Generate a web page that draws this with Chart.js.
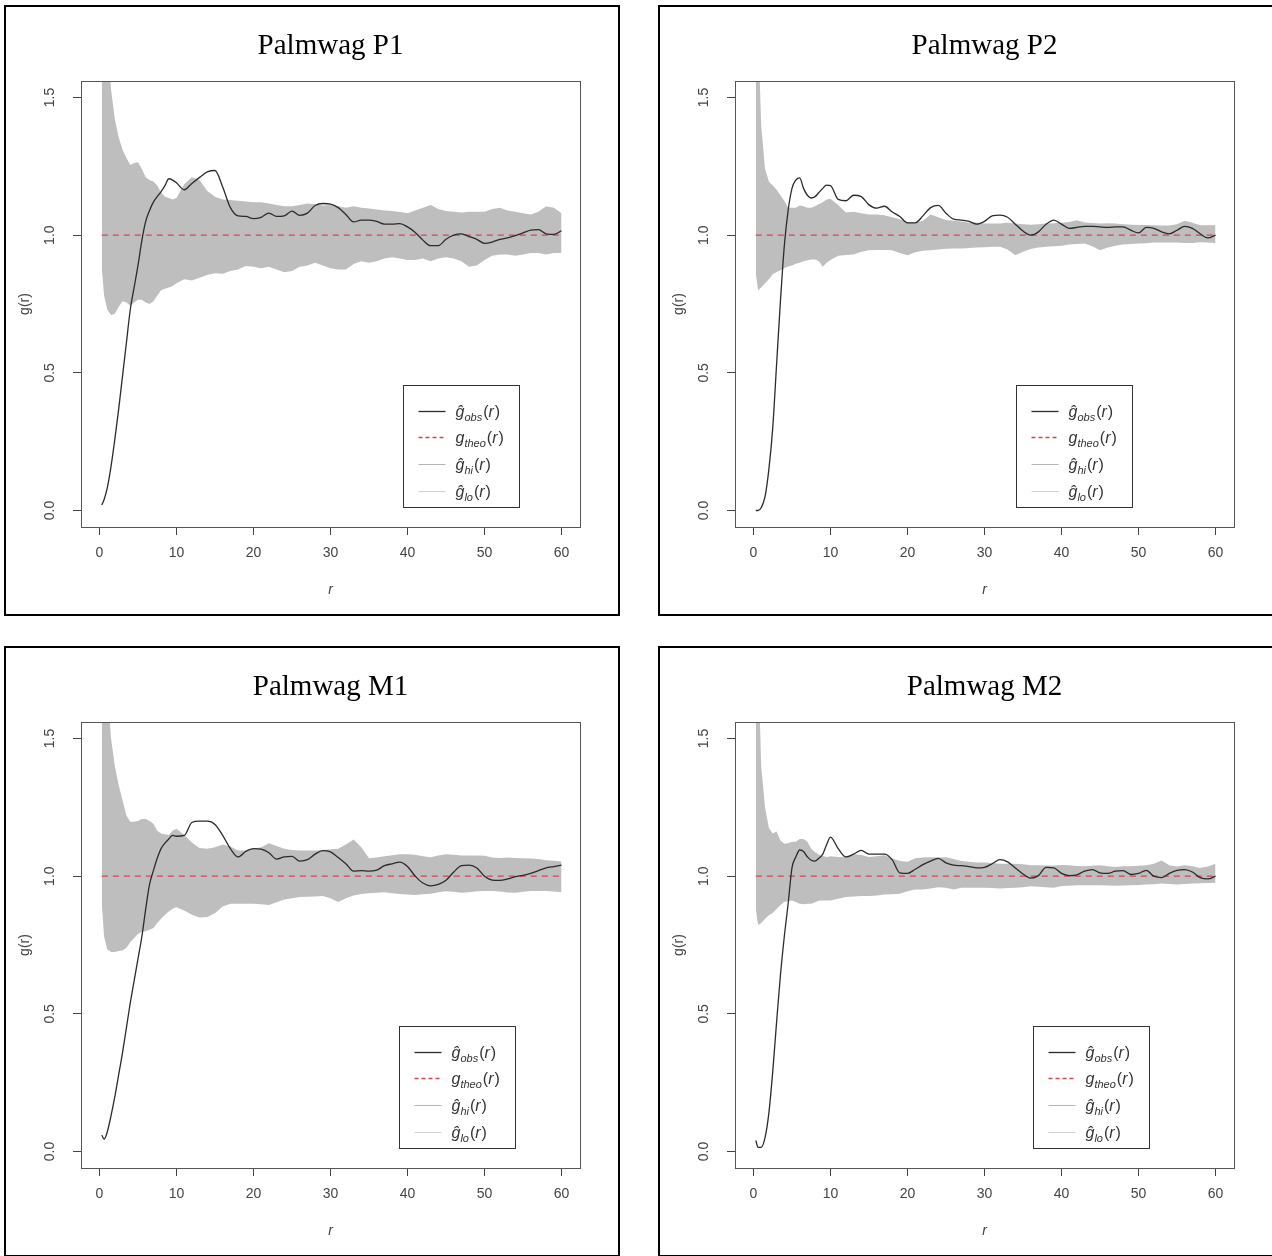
<!DOCTYPE html>
<html><head><meta charset="utf-8">
<script src="https://cdn.jsdelivr.net/npm/chart.js@4/dist/chart.umd.min.js"></script>
<style>
html,body{margin:0;padding:0;background:#fff;overflow:hidden;width:1272px;height:1256px;}
.panel{position:absolute;box-sizing:border-box;width:616px;height:611px;border:2px solid #000;background:#fff;}
.panel canvas{display:block;}
</style></head><body>
<div class="panel" style="left:4px;top:5px"><canvas id="c0" width="612" height="607"></canvas></div>
<div class="panel" style="left:658px;top:5px"><canvas id="c1" width="612" height="607"></canvas></div>
<div class="panel" style="left:4px;top:646px"><canvas id="c2" width="612" height="607"></canvas></div>
<div class="panel" style="left:658px;top:646px"><canvas id="c3" width="612" height="607"></canvas></div>
<script>
// ---------- data ----------
const rValues = [0.3,0.6,1,1.5,2,2.5,3,3.5,4,4.5,5,5.5,6,6.5,7,7.5,8,8.5,9,9.5,10,
  11,12,13,14,15,16,17,18,19,20,21,22,23,24,25,26,27,28,29,30,
  31,32,33,34,35,36,37,38,39,40,41,42,43,44,45,46,47,48,49,50,
  51,52,53,54,55,56,57,58,59,60];

const panelTitles = ['Palmwag P1','Palmwag P2','Palmwag M1','Palmwag M2'];
const xTicks = [0,10,20,30,40,50,60];
const yTicks = [0,0.5,1.0,1.5];
const gTheo = 1;

const p1Obs = [0.02,0.04,0.08,0.16,0.26,0.37,0.49,0.61,0.73,0.81,0.89,0.98,1.05,1.09,1.12,1.14,1.158,1.18,1.205,1.2,1.19,
  1.165,1.188,1.21,1.23,1.235,1.175,1.1,1.07,1.068,1.06,
  1.065,1.08,1.068,1.07,1.087,1.072,1.08,1.108,1.115,1.113,
  1.1,1.075,1.048,1.055,1.055,1.05,1.04,1.04,1.042,1.03,
  1.01,0.982,0.962,0.962,0.985,1.0,1.005,0.995,0.985,0.97,
  0.975,0.985,0.99,0.998,1.008,1.018,1.02,1.005,1.003,1.016];
const p1Hi = [2.2,2.0,1.75,1.53,1.42,1.355,1.31,1.28,1.255,1.262,1.265,1.24,1.21,1.2,1.195,1.18,1.155,1.14,1.135,1.13,1.135,
  1.185,1.21,1.2,1.16,1.14,1.13,1.128,1.125,1.122,1.12,
  1.12,1.115,1.11,1.105,1.105,1.11,1.115,1.112,1.108,1.11,
  1.105,1.1,1.105,1.1,1.097,1.093,1.09,1.088,1.084,1.08,
  1.09,1.1,1.11,1.095,1.088,1.085,1.082,1.085,1.085,1.085,
  1.095,1.1,1.09,1.085,1.08,1.075,1.085,1.105,1.1,1.08];
const p1Lo = [0.88,0.78,0.73,0.71,0.715,0.74,0.76,0.755,0.745,0.755,0.765,0.765,0.755,0.75,0.76,0.78,0.8,0.805,0.81,0.815,0.825,
  0.84,0.835,0.845,0.855,0.862,0.86,0.87,0.875,0.888,0.885,
  0.88,0.885,0.875,0.865,0.87,0.885,0.89,0.9,0.89,0.88,
  0.875,0.875,0.895,0.905,0.9,0.905,0.915,0.92,0.915,0.91,
  0.91,0.915,0.905,0.915,0.92,0.915,0.905,0.885,0.89,0.91,
  0.925,0.93,0.93,0.925,0.93,0.935,0.935,0.93,0.935,0.935];

const p2Obs = [0.0,0.0,0.01,0.05,0.15,0.3,0.53,0.76,0.96,1.09,1.17,1.2,1.208,1.17,1.145,1.135,1.14,1.155,1.17,1.182,1.18,
  1.13,1.125,1.145,1.14,1.11,1.098,1.105,1.085,1.068,1.045,
  1.045,1.07,1.1,1.108,1.08,1.058,1.055,1.05,1.04,1.05,
  1.07,1.073,1.065,1.04,1.015,1.0,1.012,1.04,1.055,1.04,
  1.025,1.028,1.032,1.032,1.03,1.028,1.03,1.03,1.018,1.008,
  1.028,1.025,1.012,1.005,1.018,1.032,1.025,1.005,0.99,1.0];
const p2Hi = [2.2,1.75,1.4,1.24,1.195,1.18,1.165,1.145,1.125,1.1,1.1,1.1,1.108,1.105,1.1,1.1,1.105,1.113,1.12,1.13,1.132,
  1.11,1.082,1.085,1.08,1.075,1.075,1.072,1.065,1.058,1.048,
  1.045,1.052,1.075,1.065,1.055,1.052,1.05,1.045,1.045,1.042,
  1.042,1.042,1.045,1.042,1.04,1.038,1.04,1.042,1.043,1.045,
  1.048,1.054,1.046,1.044,1.042,1.043,1.042,1.04,1.038,1.037,
  1.037,1.036,1.035,1.035,1.04,1.052,1.045,1.036,1.036,1.036];
const p2Lo = [0.86,0.8,0.81,0.825,0.84,0.858,0.866,0.873,0.88,0.886,0.89,0.896,0.9,0.905,0.909,0.912,0.912,0.905,0.885,0.9,0.91,
  0.925,0.928,0.93,0.94,0.945,0.946,0.946,0.945,0.935,0.927,
  0.938,0.943,0.945,0.948,0.951,0.952,0.952,0.953,0.955,0.956,
  0.958,0.958,0.948,0.927,0.94,0.95,0.955,0.958,0.96,0.962,
  0.966,0.968,0.97,0.96,0.945,0.955,0.962,0.966,0.968,0.97,
  0.971,0.973,0.973,0.973,0.973,0.972,0.972,0.974,0.973,0.972];

const m1Obs = [0.06,0.045,0.07,0.13,0.2,0.28,0.36,0.45,0.54,0.62,0.7,0.78,0.88,0.97,1.02,1.065,1.1,1.12,1.135,1.148,1.145,
  1.148,1.195,1.2,1.2,1.188,1.148,1.1,1.07,1.09,1.1,
  1.098,1.085,1.062,1.07,1.072,1.055,1.06,1.08,1.093,1.088,
  1.068,1.045,1.018,1.02,1.018,1.022,1.038,1.045,1.051,1.035,
  1.0,0.975,0.965,0.97,0.985,1.015,1.038,1.04,1.03,1.0,
  0.986,0.985,0.99,0.998,1.003,1.01,1.02,1.03,1.035,1.04];
const m1Hi = [2.2,1.95,1.7,1.5,1.4,1.33,1.275,1.22,1.198,1.198,1.2,1.208,1.208,1.2,1.19,1.165,1.155,1.152,1.15,1.165,1.172,
  1.15,1.122,1.102,1.1,1.105,1.115,1.108,1.093,1.093,1.1,
  1.105,1.12,1.11,1.1,1.095,1.093,1.093,1.093,1.095,1.098,
  1.1,1.115,1.133,1.105,1.065,1.068,1.072,1.076,1.08,1.08,
  1.078,1.072,1.069,1.075,1.08,1.078,1.075,1.075,1.075,1.074,
  1.068,1.066,1.068,1.066,1.065,1.064,1.062,1.058,1.056,1.053];
const m1Lo = [0.9,0.78,0.735,0.725,0.725,0.728,0.73,0.74,0.76,0.775,0.79,0.798,0.8,0.805,0.812,0.83,0.845,0.86,0.872,0.882,0.887,
  0.875,0.86,0.85,0.852,0.865,0.89,0.9,0.9,0.9,0.9,
  0.898,0.895,0.905,0.915,0.92,0.924,0.925,0.926,0.928,0.92,
  0.906,0.92,0.93,0.935,0.938,0.94,0.942,0.938,0.935,0.933,
  0.932,0.934,0.936,0.942,0.945,0.943,0.94,0.942,0.945,0.946,
  0.946,0.944,0.941,0.94,0.943,0.946,0.946,0.946,0.944,0.942];

const m2Obs = [0.04,0.015,0.015,0.05,0.14,0.29,0.47,0.64,0.78,0.9,1.03,1.07,1.095,1.09,1.07,1.058,1.055,1.065,1.08,1.115,1.142,
  1.1,1.07,1.08,1.094,1.08,1.08,1.08,1.06,1.012,1.01,
  1.025,1.042,1.055,1.065,1.048,1.04,1.038,1.035,1.03,1.032,
  1.045,1.06,1.052,1.03,1.008,0.993,1.002,1.032,1.03,1.01,
  1.002,1.005,1.018,1.024,1.012,1.01,1.018,1.02,1.006,1.01,
  1.021,1.0,0.995,1.01,1.021,1.024,1.015,0.995,0.99,1.0];
const m2Hi = [2.2,1.8,1.4,1.25,1.175,1.155,1.162,1.13,1.118,1.12,1.125,1.125,1.135,1.135,1.125,1.1,1.087,1.078,1.073,1.07,1.072,
  1.07,1.069,1.08,1.077,1.07,1.072,1.076,1.065,1.055,1.052,
  1.065,1.068,1.069,1.068,1.069,1.062,1.055,1.052,1.05,1.05,
  1.048,1.045,1.045,1.045,1.043,1.04,1.04,1.039,1.039,1.041,
  1.04,1.037,1.036,1.038,1.04,1.036,1.033,1.036,1.036,1.038,
  1.04,1.045,1.057,1.04,1.035,1.04,1.036,1.03,1.035,1.045];
const m2Lo = [0.88,0.823,0.83,0.845,0.858,0.866,0.881,0.895,0.906,0.91,0.912,0.906,0.9,0.898,0.9,0.9,0.905,0.911,0.912,0.912,0.912,
  0.918,0.924,0.926,0.928,0.928,0.93,0.933,0.934,0.936,0.945,
  0.952,0.952,0.955,0.96,0.958,0.952,0.958,0.958,0.958,0.958,
  0.957,0.955,0.957,0.958,0.96,0.963,0.962,0.96,0.958,0.964,
  0.965,0.967,0.967,0.967,0.967,0.966,0.965,0.966,0.967,0.968,
  0.97,0.971,0.973,0.972,0.97,0.972,0.973,0.974,0.975,0.976];

const legendBases = ['\u011D','g','\u011D','\u011D'];
const legendSubs = ['obs','theo','hi','lo'];

// ---------- styling / layout ----------
const SANS = '"Liberation Sans", Arial, sans-serif';
const COL_OBS = '#2b2b2b', COL_THEO = '#d4464f', COL_BAND = '#bebebe', COL_HI = '#b4b4b4', COL_LO = '#d2d2d2';
const legendStyles = [
  {color: COL_OBS, dash: [], width: 1.3},
  {color: COL_THEO, dash: [4,3], width: 1.3},
  {color: COL_HI, dash: [], width: 1},
  {color: COL_LO, dash: [], width: 1}
];

const boxPlugin = {
  id: 'plotBox',
  afterDatasetsDraw(chart) {
    const {ctx, chartArea: a} = chart;
    ctx.save();
    ctx.strokeStyle = '#555'; ctx.lineWidth = 1;
    ctx.strokeRect(Math.round(a.left) + 0.5, Math.round(a.top) + 0.5, Math.round(a.right - a.left), Math.round(a.bottom - a.top));
    ctx.restore();
  }
};

const legendPlugin = {
  id: 'gLegend',
  afterDraw(chart, args, opts) {
    const {ctx, chartArea: a} = chart;
    const x0 = Math.round(a.left + opts.dx) + 0.5, y0 = Math.round(a.top + opts.dy) + 0.5;
    ctx.save();
    ctx.fillStyle = '#fff';
    ctx.fillRect(x0, y0, opts.w, opts.h);
    ctx.strokeStyle = '#333'; ctx.lineWidth = 1;
    ctx.strokeRect(x0, y0, opts.w, opts.h);
    legendSubs.forEach((sub, i) => {
      const st = legendStyles[i];
      const y = Math.round(y0 + 25 + i * 26.8) + 0.5;
      ctx.beginPath();
      ctx.setLineDash(st.dash);
      ctx.strokeStyle = st.color; ctx.lineWidth = st.width;
      ctx.moveTo(x0 + 15, y); ctx.lineTo(x0 + 42, y); ctx.stroke();
      ctx.setLineDash([]);
      let tx = x0 + 52;
      const base = y + 5;
      ctx.fillStyle = '#333';
      ctx.textBaseline = 'alphabetic'; ctx.textAlign = 'left';
      ctx.font = 'italic 16px ' + SANS;
      ctx.fillText(legendBases[i], tx, base); tx += ctx.measureText(legendBases[i]).width;
      ctx.font = 'italic 11px ' + SANS;
      ctx.fillText(sub, tx, base + 4); tx += ctx.measureText(sub).width + 1;
      ctx.font = '16px ' + SANS;
      ctx.fillText('(', tx, base); tx += ctx.measureText('(').width;
      ctx.font = 'italic 16px ' + SANS;
      ctx.fillText('r', tx, base); tx += ctx.measureText('r').width + 1;
      ctx.font = '16px ' + SANS;
      ctx.fillText(')', tx, base);
    });
    ctx.restore();
  }
};

const legendPos = [
  {dx: 322, dy: 304, w: 116, h: 122},
  {dx: 281, dy: 304, w: 116, h: 122},
  {dx: 318, dy: 304, w: 116, h: 122},
  {dx: 298, dy: 304, w: 116, h: 122}
];
const seriesSets = [
  [p1Obs, p1Hi, p1Lo],
  [p2Obs, p2Hi, p2Lo],
  [m1Obs, m1Hi, m1Lo],
  [m2Obs, m2Hi, m2Lo]
];

function pts(vals) { return rValues.map((r, i) => ({x: r, y: vals[i]})); }

function makePanel(idx) {
  const [obs, hi, lo] = seriesSets[idx];
  const tickFont = {family: SANS, size: 14};
  return new Chart(document.getElementById('c' + idx), {
    type: 'line',
    data: {
      datasets: [
        {label: 'obs', data: pts(obs), borderColor: COL_OBS, borderWidth: 1.3, pointRadius: 0,
         cubicInterpolationMode: 'monotone', fill: false},
        {label: 'theo', data: rValues.map(r => ({x: r, y: gTheo})), borderColor: COL_THEO, borderWidth: 1.3,
         borderDash: [6,5], pointRadius: 0, fill: false},
        {label: 'hi', data: pts(hi), borderColor: COL_BAND, backgroundColor: COL_BAND, borderWidth: 0,
         pointRadius: 0, tension: 0, fill: '+1'},
        {label: 'lo', data: pts(lo), borderColor: COL_BAND, backgroundColor: COL_BAND, borderWidth: 0,
         pointRadius: 0, tension: 0, fill: false}
      ]
    },
    options: {
      responsive: false, animation: false, devicePixelRatio: 1,
      layout: {padding: {left: 0, right: 38, top: 0, bottom: 0}},
      plugins: {
        legend: {display: false}, tooltip: {enabled: false},
        title: {display: true, text: panelTitles[idx], fullSize: false, color: '#000',
          font: {family: '"Liberation Serif", "Times New Roman", serif', size: 29, weight: 'normal', lineHeight: 1.2},
          padding: {top: 21.6, bottom: 17.6}},
        gLegend: legendPos[idx]
      },
      scales: {
        x: {
          type: 'linear', position: 'bottom', min: -2.4, max: 62.4,
          afterBuildTicks: s => { s.ticks = xTicks.map(v => ({value: v})); },
          afterFit: s => { s.height = 87; },
          grid: {drawOnChartArea: false, drawTicks: true, tickLength: 8, color: '#444', lineWidth: 1},
          border: {display: false},
          ticks: {font: tickFont, color: '#444', padding: 10, maxRotation: 0, autoSkip: false},
          title: {display: true, text: 'r', color: '#444', font: {family: SANS, size: 14, style: 'italic'},
            padding: {top: 0, bottom: 15.6}}
        },
        y: {
          type: 'linear', position: 'left', min: -0.06, max: 1.56,
          afterBuildTicks: s => { s.ticks = yTicks.map(v => ({value: v})); },
          afterFit: s => { s.width = 75; },
          grid: {drawOnChartArea: false, drawTicks: true, tickLength: 8, color: '#444', lineWidth: 1},
          border: {display: false},
          ticks: {font: tickFont, color: '#444', padding: 13, minRotation: 90, maxRotation: 90,
            crossAlign: 'center', autoSkip: false, callback: v => Number(v).toFixed(1)},
          title: {display: true, text: 'g(r)', color: '#444', font: {family: SANS, size: 14},
            padding: {top: 10.6, bottom: 0}}
        }
      }
    },
    plugins: [boxPlugin, legendPlugin]
  });
}
[0,1,2,3].forEach(makePanel);
</script>
</body></html>
